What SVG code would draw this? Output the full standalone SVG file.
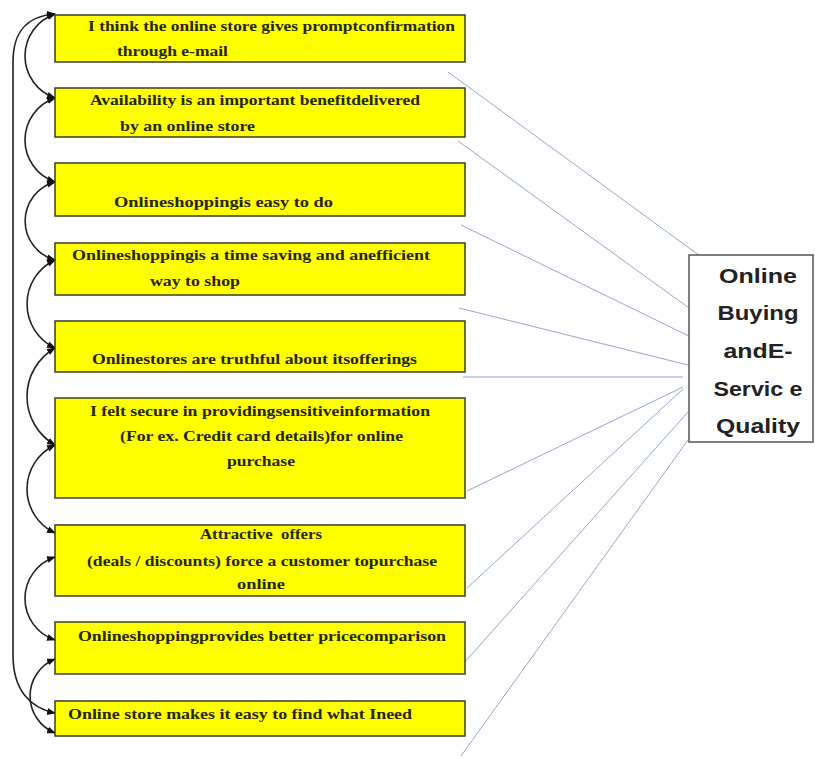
<svg xmlns="http://www.w3.org/2000/svg" width="815" height="758" viewBox="0 0 815 758">
<style>
.box{fill:#ffff00;stroke:#3d3d2a;stroke-width:1.5}
.t{font-family:"Liberation Serif","Times New Roman",serif;font-weight:bold;font-size:15px;fill:#262610}
.rt{font-family:"Liberation Sans",Arial,sans-serif;font-weight:bold;font-size:21px;fill:#222;text-anchor:middle}
.bl{stroke:#93a9cc;stroke-width:1;fill:none}
.arc{stroke:#222;stroke-width:1.6;fill:none;marker-start:url(#ah);marker-end:url(#ah)}
</style>
<defs>
<marker id="ah" viewBox="0 0 10 10" refX="9" refY="5" markerWidth="5.5" markerHeight="5.5" orient="auto-start-reverse" markerUnits="strokeWidth">
<path d="M0,1 L10,5 L0,9 z" fill="#111"/>
</marker>
</defs>
<rect width="815" height="758" fill="#ffffff"/>
<g id="connectors">
<line class="bl" x1="448" y1="72" x2="700" y2="256"/>
<line class="bl" x1="458" y1="141" x2="689" y2="308"/>
<line class="bl" x1="461" y1="225" x2="693" y2="338"/>
<line class="bl" x1="459" y1="308" x2="700" y2="368"/>
<line class="bl" x1="463" y1="377" x2="683" y2="377"/>
<line class="bl" x1="467" y1="491" x2="683" y2="387"/>
<line class="bl" x1="467" y1="588" x2="683" y2="389"/>
<line class="bl" x1="455" y1="673" x2="688" y2="412"/>
<line class="bl" x1="461" y1="756" x2="693" y2="433"/>
<path class="arc" d="M55,14 A44.4,44.4 0 0 0 55,98"/>
<path class="arc" d="M55,98 A44.4,44.4 0 0 0 55,182"/>
<path class="arc" d="M55,182 A40.4,40.4 0 0 0 55,260"/>
<path class="arc" d="M55,260 A48.6,48.6 0 0 0 55,348"/>
<path class="arc" d="M55,348 A56,56 0 0 0 55,445"/>
<path class="arc" d="M55,445 A48.6,48.6 0 0 0 55,533"/>
<path class="arc" d="M55,557 A43.7,43.7 0 0 0 55,640"/>
<path class="arc" d="M55,659 A39.9,39.9 0 0 0 55,733"/>
<path class="arc" d="M55,14 C28,16 13,30 13,62 L13,655 C13,690 30,708 55,713"/>
</g>
<g id="n1"><rect class="box" x="55" y="15" width="410" height="47"/>
<text class="t" x="88" y="31" textLength="367" lengthAdjust="spacingAndGlyphs">I think the online store gives promptconfirmation</text>
<text class="t" x="117" y="56" textLength="111" lengthAdjust="spacingAndGlyphs">through e-mail</text></g>
<g id="n2"><rect class="box" x="55" y="88" width="410" height="49"/>
<text class="t" x="90" y="105" textLength="330" lengthAdjust="spacingAndGlyphs">Availability is an important benefitdelivered</text>
<text class="t" x="120" y="131" textLength="135" lengthAdjust="spacingAndGlyphs">by an online store</text></g>
<g id="n3"><rect class="box" x="55" y="163" width="410" height="53"/>
<text class="t" x="114" y="207" textLength="219" lengthAdjust="spacingAndGlyphs">Onlineshoppingis easy to do</text></g>
<g id="n4"><rect class="box" x="55" y="243" width="410" height="52"/>
<text class="t" x="72" y="260" textLength="358" lengthAdjust="spacingAndGlyphs">Onlineshoppingis a time saving and anefficient</text>
<text class="t" x="150" y="286" textLength="90" lengthAdjust="spacingAndGlyphs">way to shop</text></g>
<g id="n5"><rect class="box" x="55" y="321" width="410" height="51"/>
<text class="t" x="92" y="364" textLength="325" lengthAdjust="spacingAndGlyphs">Onlinestores are truthful about itsofferings</text></g>
<g id="n6"><rect class="box" x="55" y="398" width="410" height="100"/>
<text class="t" x="90" y="416" textLength="340" lengthAdjust="spacingAndGlyphs">I felt secure in providingsensitiveinformation</text>
<text class="t" x="120" y="441" textLength="283" lengthAdjust="spacingAndGlyphs">(For ex. Credit card details)for online</text>
<text class="t" x="227" y="466" textLength="68" lengthAdjust="spacingAndGlyphs">purchase</text></g>
<g id="n7"><rect class="box" x="55" y="525" width="410" height="71"/>
<text class="t" x="200" y="539" textLength="122" lengthAdjust="spacingAndGlyphs" xml:space="preserve">Attractive  offers</text>
<text class="t" x="87" y="566" textLength="350" lengthAdjust="spacingAndGlyphs">(deals / discounts) force a customer topurchase</text>
<text class="t" x="237" y="589" textLength="48" lengthAdjust="spacingAndGlyphs">online</text></g>
<g id="n8"><rect class="box" x="55" y="622" width="410" height="52"/>
<text class="t" x="78" y="641" textLength="368" lengthAdjust="spacingAndGlyphs">Onlineshoppingprovides better pricecomparison</text></g>
<g id="n9"><rect class="box" x="55" y="701" width="410" height="35"/>
<text class="t" x="68" y="719" textLength="344" lengthAdjust="spacingAndGlyphs">Online store makes it easy to find what Ineed</text></g>
<g id="target"><rect x="689" y="255" width="124" height="187" fill="#ffffff" stroke="#555" stroke-width="1.5"/>
<text class="rt" x="758" y="283" textLength="78" lengthAdjust="spacingAndGlyphs">Online</text>
<text class="rt" x="758" y="320" textLength="81" lengthAdjust="spacingAndGlyphs">Buying</text>
<text class="rt" x="758" y="358" textLength="69" lengthAdjust="spacingAndGlyphs">andE-</text>
<text class="rt" x="758" y="396" textLength="89" lengthAdjust="spacingAndGlyphs">Servic e</text>
<text class="rt" x="758" y="433" textLength="84" lengthAdjust="spacingAndGlyphs">Quality</text></g>
</svg>
